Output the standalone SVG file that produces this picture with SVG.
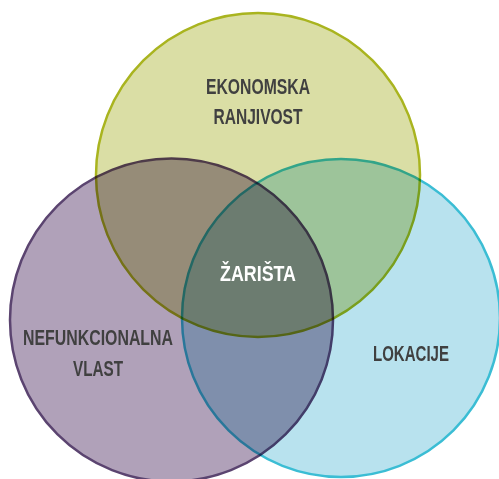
<svg xmlns="http://www.w3.org/2000/svg" width="499" height="479" viewBox="0 0 499 479">
<style>
.c{mix-blend-mode:multiply;stroke-width:2.5}
.t{font-family:"Liberation Sans",Arial,sans-serif;font-weight:bold;font-size:22px;fill:#404040;text-anchor:middle}
.w{fill:#ffffff}
</style>
<rect width="499" height="479" fill="#ffffff"/>
<g id="ekonomska">
<circle class="c" cx="258" cy="175" r="162" fill="#dadea5" stroke="#a9b41f"/>
<text class="t" x="258" y="94" textLength="104" lengthAdjust="spacingAndGlyphs">EKONOMSKA</text>
<text class="t" x="258" y="124" textLength="89" lengthAdjust="spacingAndGlyphs">RANJIVOST</text>
</g>
<g id="vlast">
<circle class="c" cx="171.5" cy="320" r="161.5" fill="#b0a1b9" stroke="#5b4470"/>
<text class="t" x="98" y="345" textLength="150" lengthAdjust="spacingAndGlyphs">NEFUNKCIONALNA</text>
<text class="t" x="98" y="376" textLength="50" lengthAdjust="spacingAndGlyphs">VLAST</text>
</g>
<g id="lokacije">
<circle class="c" cx="341" cy="318" r="159" fill="#b8e2ee" stroke="#3bbdd4"/>
<text class="t" x="411" y="361" textLength="76" lengthAdjust="spacingAndGlyphs">LOKACIJE</text>
</g>
<g id="zarista">
<text class="t w" x="258" y="281" textLength="76" lengthAdjust="spacingAndGlyphs">ŽARIŠTA</text>
</g>
<g id="connectors"/>
</svg>
